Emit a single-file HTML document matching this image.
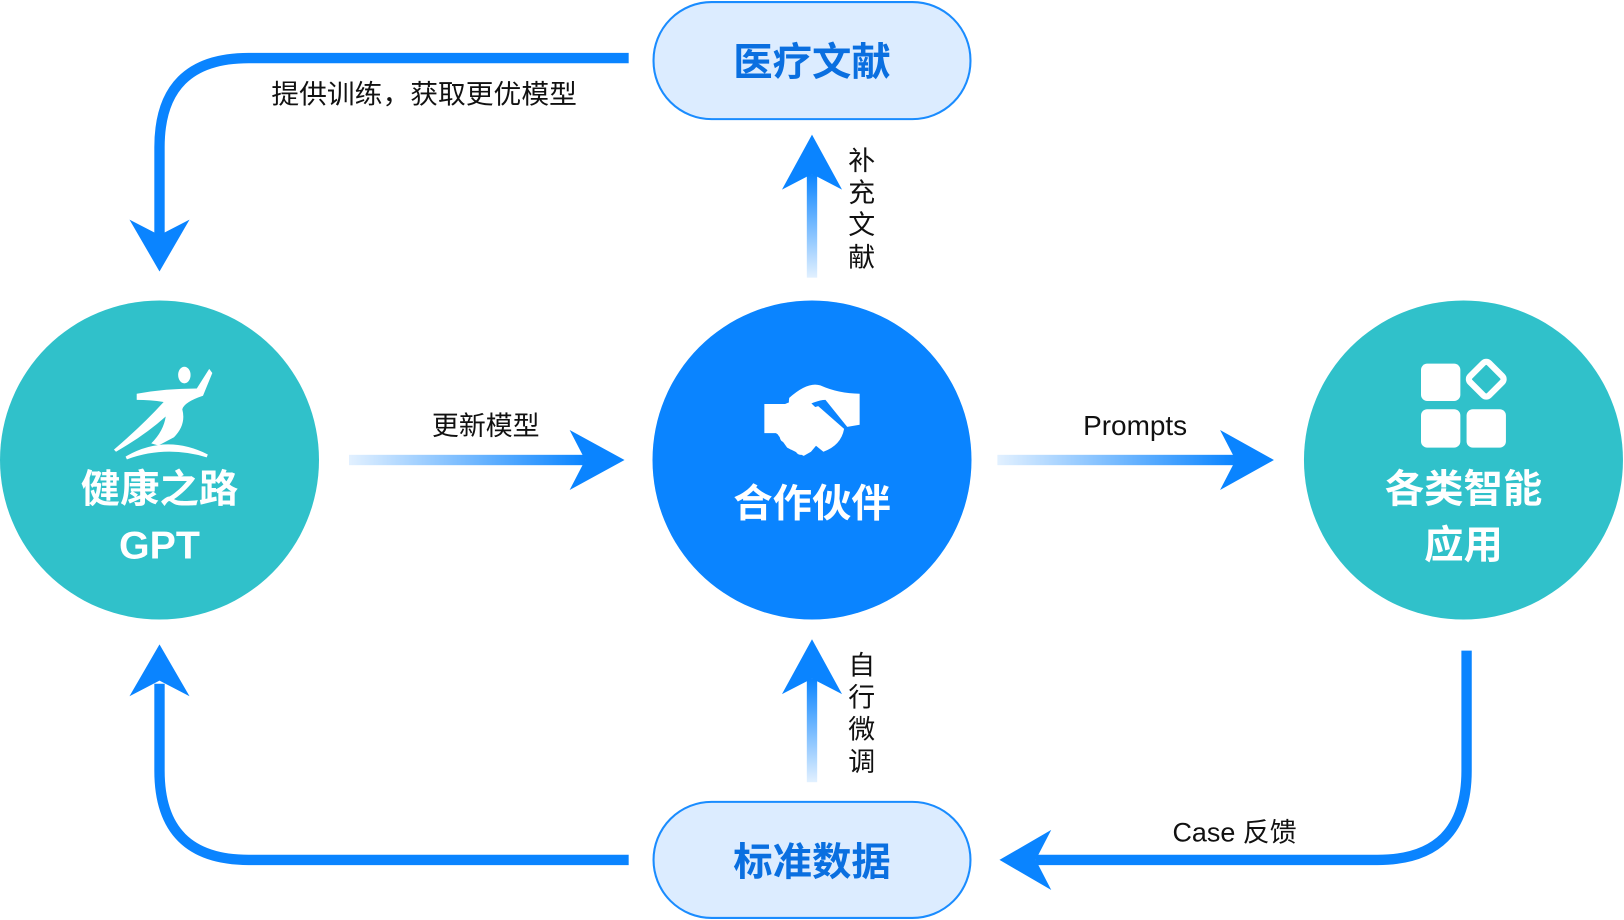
<!DOCTYPE html>
<html><head><meta charset="utf-8"><style>
html,body{margin:0;padding:0;background:#fff;width:1624px;height:920px;overflow:hidden}
svg{display:block}
text{font-family:"Liberation Sans","Noto Sans CJK SC",sans-serif}
</style></head><body>
<svg width="1624" height="920" viewBox="0 0 1568 888" preserveAspectRatio="none" xmlns="http://www.w3.org/2000/svg">
<defs>
<linearGradient id="gh" x1="0" y1="0" x2="1" y2="0"><stop offset="0" stop-color="#0a84ff" stop-opacity="0.12"/><stop offset="1" stop-color="#0a84ff"/></linearGradient>
<linearGradient id="gv" x1="0" y1="1" x2="0" y2="0"><stop offset="0" stop-color="#0a84ff" stop-opacity="0.12"/><stop offset="1" stop-color="#0a84ff"/></linearGradient>
</defs>
<rect x="631" y="2" width="306" height="113" rx="56" fill="#dcecff" stroke="#1a8cff" stroke-width="2"/>
<text x="784" y="73" text-anchor="middle" font-size="38" font-weight="bold" fill="#0a6fe0">医疗文献</text>
<rect x="631" y="774" width="306" height="112" rx="56" fill="#dcecff" stroke="#1a8cff" stroke-width="2"/>
<text x="784" y="845" text-anchor="middle" font-size="38" font-weight="bold" fill="#0a6fe0">标准数据</text>
<g fill="none" stroke="#0a84ff" stroke-width="10">
<path d="M607 56 H240 Q154 56 154 142 V230"/>
<path d="M607 830 H240 Q154 830 154 744 V660"/>
<path d="M1416 628 V744 Q1416 830 1330 830 H1000"/>
</g>
<g fill="#0a84ff">
<polygon points="154,262 125,212 154,227 183,212"/>
<polygon points="154,622 125,672 154,657 183,672"/>
<polygon points="965,830 1015,801 1000,830 1015,859"/>
</g>
<rect x="337" y="439" width="228" height="10" fill="url(#gh)"/>
<polygon points="603,444 550,415 565,444 550,473" fill="#0a84ff"/>
<rect x="963" y="439" width="230" height="10" fill="url(#gh)"/>
<polygon points="1230,444 1178,415 1193,444 1178,473" fill="#0a84ff"/>
<rect x="779" y="168" width="10" height="100" fill="url(#gv)"/>
<polygon points="784,130 755,183 784,168 813,183" fill="#0a84ff"/>
<rect x="779" y="655" width="10" height="100" fill="url(#gv)"/>
<polygon points="784,617 755,670 784,655 813,670" fill="#0a84ff"/>
<g font-size="26" fill="#111">
<text x="262" y="100" textLength="295" lengthAdjust="spacingAndGlyphs">提供训练，获取更优模型</text>
<text x="469" y="420" text-anchor="middle">更新模型</text>
<text x="1096" y="420" text-anchor="middle" font-size="27">Prompts</text>
<text x="1192" y="812" text-anchor="middle">Case 反馈</text>
<text x="832" y="164" text-anchor="middle">补</text><text x="832" y="195" text-anchor="middle">充</text><text x="832" y="226" text-anchor="middle">文</text><text x="832" y="257" text-anchor="middle">献</text>
<text x="832" y="651" text-anchor="middle">自</text><text x="832" y="682" text-anchor="middle">行</text><text x="832" y="713" text-anchor="middle">微</text><text x="832" y="744" text-anchor="middle">调</text>
</g>
<circle cx="154" cy="444" r="154" fill="#30c1ca"/>
<circle cx="784" cy="444" r="154" fill="#0a84ff"/>
<circle cx="1413" cy="444" r="154" fill="#30c1ca"/>
<g fill="#fff">
<ellipse cx="178" cy="362" rx="6" ry="8"/>
<path d="M132 380 Q160 375 190 375 L202 356 L205 360 L196 382 Q178 388 176 395 Q180 410 168 422 L153 430 L146 428 Q158 416 160 402 Q140 420 112 436 L110 434 Q138 410 158 388 Q145 386 132 386 Z"/>
<path d="M122 442 Q160 420 200 440 Q160 428 122 442 Z" stroke="#fff" stroke-width="3"/>
</g>
<text x="154" y="485" text-anchor="middle" font-size="38" font-weight="bold" fill="#fff">健康之路</text>
<text x="154" y="539" text-anchor="middle" font-size="38" font-weight="bold" fill="#fff">GPT</text>
<g fill="#fff">
<path d="M738 390 H758 Q770 384 782 388 L805 410 L783 436 L776 440 L760 432 L750 418 H738 Z"/>
<path d="M762 384 Q780 368 792 372 Q810 380 830 380 V410 L818 412 L797 386 Q788 386 770 396 Q760 396 762 384 Z"/>
<path d="M770 398 L790 392 L815 414 Q812 430 795 436 L785 428 Z"/>
<circle cx="752" cy="414" r="5"/><circle cx="758" cy="422" r="5"/><circle cx="765" cy="429" r="5"/><circle cx="773" cy="434" r="5"/>
</g>
<text x="784" y="499" text-anchor="middle" font-size="38" font-weight="bold" fill="#fff">合作伙伴</text>
<g fill="#fff">
<rect x="1372" y="351" width="38" height="36" rx="6"/>
<rect x="1372" y="395" width="38" height="37" rx="6"/>
<rect x="1416" y="395" width="38" height="37" rx="6"/>
<rect x="1422" y="353" width="26" height="26" rx="4" transform="rotate(45 1435 366)" fill="none" stroke="#fff" stroke-width="6"/>
</g>
<text x="1413" y="485" text-anchor="middle" font-size="38" font-weight="bold" fill="#fff">各类智能</text>
<text x="1413" y="539" text-anchor="middle" font-size="38" font-weight="bold" fill="#fff">应用</text>
</svg>
</body></html>
